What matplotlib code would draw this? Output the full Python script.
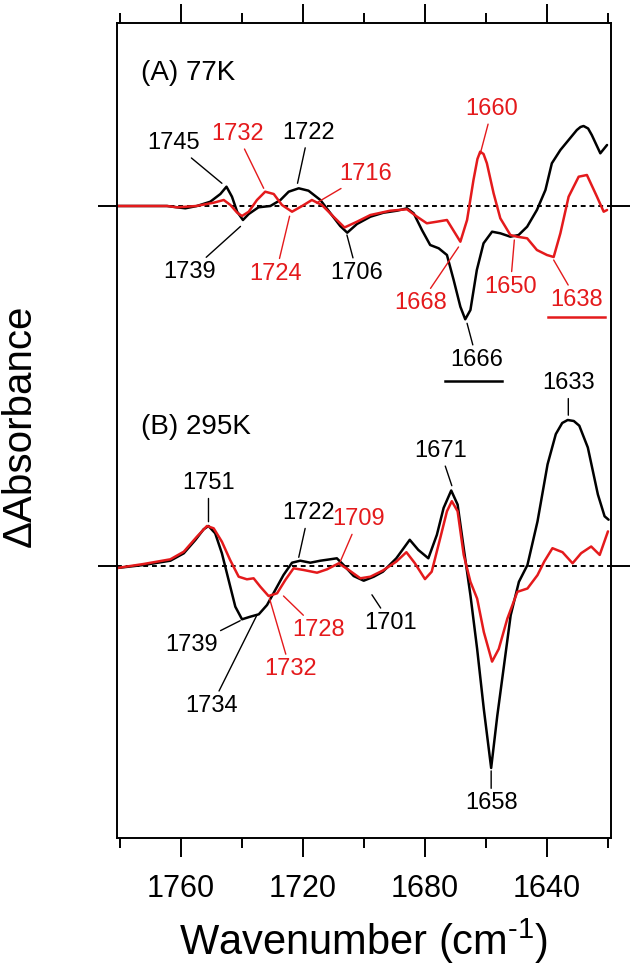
import matplotlib
matplotlib.use('Agg')
import numpy as np
import matplotlib.pyplot as plt
from matplotlib.ticker import MultipleLocator

plt.rcParams['font.family'] = ['Liberation Sans', 'DejaVu Sans']
plt.rcParams['mathtext.fontset'] = 'custom'
plt.rcParams['mathtext.rm'] = 'Liberation Sans'

RED = '#e41a1c'
OFFSET_B = -3.6

# (A) 77K  -- wavenumber (cm-1) / delta absorbance (arb.)
wn_a_black = [1781, 1764.6, 1761.3, 1758.6, 1754.8, 1750.4, 1747.1, 1745.1, 1743.3, 1741.6,
              1739.7, 1737.8, 1734.6, 1730.7, 1727.4, 1724.7, 1721.4, 1718.2, 1714.3, 1711,
              1707.8, 1705.5, 1702.3, 1697.9, 1693.6, 1689.2, 1685.9, 1683.7, 1681, 1678.3,
              1675.5, 1672.8, 1670.6, 1668.4, 1666.8, 1665.1, 1663, 1660.8, 1658, 1655.3,
              1652, 1649.3, 1646.5, 1643.3, 1640.5, 1638.4, 1635.6, 1632.9, 1630.2, 1629,
              1628, 1626.5, 1625.3, 1622.5, 1620.3]
abs_a_black = [0, 0, -0.013, -0.023, 0, 0.043, 0.12, 0.193, 0.093, -0.057,
               -0.14, -0.08, -0.013, 0, 0.06, 0.143, 0.177, 0.153, 0.06, -0.073,
               -0.2, -0.267, -0.18, -0.107, -0.067, -0.047, -0.023, -0.073, -0.24, -0.39,
               -0.423, -0.49, -0.74, -1.007, -1.133, -1.04, -0.64, -0.373, -0.257, -0.273,
               -0.307, -0.29, -0.207, -0.04, 0.16, 0.427, 0.56, 0.66, 0.76, 0.79,
               0.8, 0.775, 0.71, 0.527, 0.61]

wn_a_red = [1781, 1764.6, 1761.3, 1755, 1749.3, 1746.0, 1743.8, 1741.6, 1740.0, 1737.8,
            1735.1, 1732.4, 1729.6, 1726.9, 1723.6, 1720.3, 1717.1, 1713.8, 1710.0, 1706.4,
            1702.3, 1697.9, 1691.4, 1685.9, 1682.6, 1679.4, 1676.1, 1672.8, 1670.1, 1668.4,
            1666.2, 1664.1, 1662.8, 1661.9, 1660.8, 1659.7, 1657.5, 1655.3, 1652, 1649.8,
            1646.5, 1643.3, 1640, 1637.8, 1635.6, 1632.9, 1629.6, 1626.9, 1623.6, 1621.4,
            1620.3]
abs_a_red = [0, 0, -0.013, 0, 0.033, 0.06, 0.01, -0.067, -0.1, -0.057,
             0.06, 0.143, 0.12, 0.01, -0.057, 0, 0.06, 0.01, -0.107, -0.215,
             -0.157, -0.09, -0.047, -0.033, -0.107, -0.173, -0.157, -0.14, -0.273, -0.357,
             -0.14, 0.26, 0.47, 0.543, 0.52, 0.427, 0.127, -0.123, -0.29, -0.307,
             -0.323, -0.44, -0.49, -0.51, -0.273, 0.093, 0.293, 0.31, 0.093, -0.057,
             -0.04]

# (B) 295K
wn_b_black = [1781, 1772.3, 1763.5, 1759.1, 1755.3, 1752.6, 1751.0, 1748.8, 1746.6, 1744.4,
              1742.2, 1740.0, 1737.3, 1734.5, 1731.8, 1729.1, 1726.4, 1723.6, 1720.9, 1717.6,
              1714.3, 1711.1, 1708.9, 1706.7, 1703.4, 1700.1, 1696.8, 1693.8, 1689.4, 1685.0,
              1682.2, 1678.9, 1676.1, 1673.9, 1671.4, 1669.3, 1667.3, 1665.1, 1662.9, 1660.7,
              1658.3, 1656.3, 1654.1, 1651.9, 1649.2, 1646.4, 1643.1, 1639.8, 1637.1, 1635.0,
              1633.2, 1631.2, 1629.4, 1626.6, 1623.3, 1621.1, 1619.8]
abs_b_black = [-0.02, 0.01, 0.053, 0.127, 0.26, 0.367, 0.4, 0.327, 0.127, -0.14,
               -0.407, -0.533, -0.507, -0.483, -0.39, -0.24, -0.09, 0.033, 0.053, 0.033,
               0.053, 0.067, 0.077, 0.01, -0.1, -0.147, -0.107, -0.057, 0.077, 0.262,
               0.161, 0.077, 0.312, 0.58, 0.755, 0.614, 0.178, -0.292, -0.829, -1.433,
               -2.02, -1.5, -0.997, -0.493, -0.158, 0.01, 0.446, 1.017, 1.319, 1.43,
               1.46, 1.45, 1.403, 1.185, 0.715, 0.497, 0.463]

wn_b_red = [1781, 1772.3, 1763.5, 1759.1, 1754.8, 1751.5, 1749.3, 1746.6, 1743.9, 1741.1,
            1738.4, 1736.2, 1734.0, 1731.3, 1728.5, 1725.8, 1723.1, 1719.8, 1715.4, 1712.1,
            1708.3, 1705.0, 1701.2, 1697.9, 1693.8, 1689.4, 1686.1, 1683.3, 1680.0, 1677.8,
            1675.0, 1672.8, 1671.2, 1669.3, 1667.3, 1665.1, 1662.9, 1660.7, 1658.0, 1655.8,
            1653.0, 1649.7, 1646.4, 1643.1, 1640.9, 1638.2, 1634.9, 1631.6, 1628.8, 1625.5,
            1622.7, 1620.0]
abs_b_red = [-0.02, 0.02, 0.067, 0.143, 0.293, 0.4, 0.377, 0.243, 0.06, -0.107,
             -0.133, -0.123, -0.207, -0.3, -0.273, -0.14, -0.023, -0.04, -0.067, -0.033,
             0.027, -0.04, -0.123, -0.107, -0.045, 0.044, 0.138, 0.027, -0.131, -0.057,
             0.279, 0.547, 0.648, 0.547, 0.111, -0.158, -0.326, -0.661, -0.956, -0.829,
             -0.527, -0.258, -0.225, -0.091, 0.044, 0.178, 0.138, 0.027, 0.128, 0.195,
             0.111, 0.346]

# peak labels: text, colour, text centre, point the leader line goes to
labels_a = [('1745', 'k', (1762.4, 0.627), (1746.6, 0.227)),
            ('1732', RED, (1741.6, 0.72), (1732.9, 0.177)),
            ('1722', 'k', (1718.2, 0.733), (1721.8, 0.227)),
            ('1716', RED, (1699.5, 0.32), (1715.6, 0.03)),
            ('1739', 'k', (1757.1, -0.66), (1740.5, -0.204)),
            ('1724', RED, (1728.9, -0.676), (1724.4, -0.102)),
            ('1706', 'k', (1702.3, -0.67), (1705.6, -0.29)),
            ('1660', RED, (1658.0, 0.97), (1661.9, 0.52)),
            ('1668', RED, (1681.5, -0.973), (1669.0, -0.41)),
            ('1650', RED, (1652.0, -0.807), (1650.7, -0.34)),
            ('1638', RED, (1630.2, -0.94), (1637.8, -0.54)),
            ('1666', 'k', (1663.0, -1.54), (1666.2, -1.173))]
labels_b = [('1751', 'k', (1751.0, -2.773), (1751.0, -3.157)),
            ('1722', 'k', (1718.2, -3.073), (1721.4, -3.513)),
            ('1709', RED, (1701.8, -3.133), (1707.8, -3.557)),
            ('1739', 'k', (1756.4, -4.39), (1740.6, -4.147)),
            ('1728', RED, (1714.9, -4.24), (1726.4, -3.9)),
            ('1732', RED, (1724.2, -4.633), (1731.0, -3.923)),
            ('1734', 'k', (1750.0, -5.0), (1735.1, -4.09)),
            ('1701', 'k', (1691.3, -4.17), (1697.4, -3.888)),
            ('1671', 'k', (1675.0, -2.45), (1671.2, -2.797)),
            ('1633', 'k', (1633.0, -1.774), (1633.0, -2.092)),
            ('1658', 'k', (1658.3, -5.975), (1658.3, -5.649))]

fig = plt.figure(figsize=(6.33, 9.68), dpi=100)
ax = fig.add_axes([117 / 633, 1 - 838 / 968, 494 / 633, 815 / 968])

line_kw = dict(lw=1.8, solid_joinstyle='round', solid_capstyle='round')
ax.plot(wn_a_black, abs_a_black, color='k', **line_kw)
ax.plot(wn_a_red, abs_a_red, color=RED, **line_kw)
ax.plot(wn_b_black, np.array(abs_b_black) + OFFSET_B, color='k', **line_kw)
ax.plot(wn_b_red, np.array(abs_b_red) + OFFSET_B, color=RED, **line_kw)

for base in (0, OFFSET_B):
    ax.axhline(base, color='k', lw=1.4, ls=(0, (2.5, 2)), zorder=0)

for txt, col, xyt, xy in labels_a + labels_b:
    ax.annotate(txt, xy=xy, xytext=xyt, color=col, fontsize=17,
                ha='center', va='center',
                arrowprops=dict(arrowstyle='-', color=col, lw=1.0,
                                shrinkA=1, shrinkB=0))

# underlines below 1666 and 1638
ax.plot([1673.5, 1654.7], [-1.752, -1.752], color='k', lw=1.8)
ax.plot([1639.5, 1620.9], [-1.113, -1.113], color=RED, lw=1.8)

ax.text(1773.2, 1.334, '(A) 77K', fontsize=20, va='center', ha='left')
ax.text(1773.2, -2.21, '(B) 295K', fontsize=20, va='center', ha='left')

ax.set_xlim(1781, 1619)
ax.set_ylim(-6.32, 1.83)
ax.xaxis.set_major_locator(MultipleLocator(40))
ax.xaxis.set_minor_locator(MultipleLocator(20))
ax.set_yticks([0, OFFSET_B])
ax.set_yticklabels([])
ax.tick_params(axis='x', which='major', direction='out', length=14, width=1.4,
               top=True, labelsize=22, pad=12)
ax.tick_params(axis='x', which='minor', direction='out', length=7, width=1.4, top=True)
ax.tick_params(axis='y', direction='out', length=14, width=1.4, left=True, right=True)
for s in ax.spines.values():
    s.set_linewidth(1.4)

ax.set_xlabel('Wavenumber (cm$^{\\text{-}1}$)', fontsize=30, va='center')
ax.xaxis.set_label_coords(0.5, -0.127)
ax.set_ylabel('\u0394Absorbance', fontsize=29, va='center')
ax.yaxis.set_label_coords(-0.196, 0.5055)

fig.savefig('out.png', dpi=100)
